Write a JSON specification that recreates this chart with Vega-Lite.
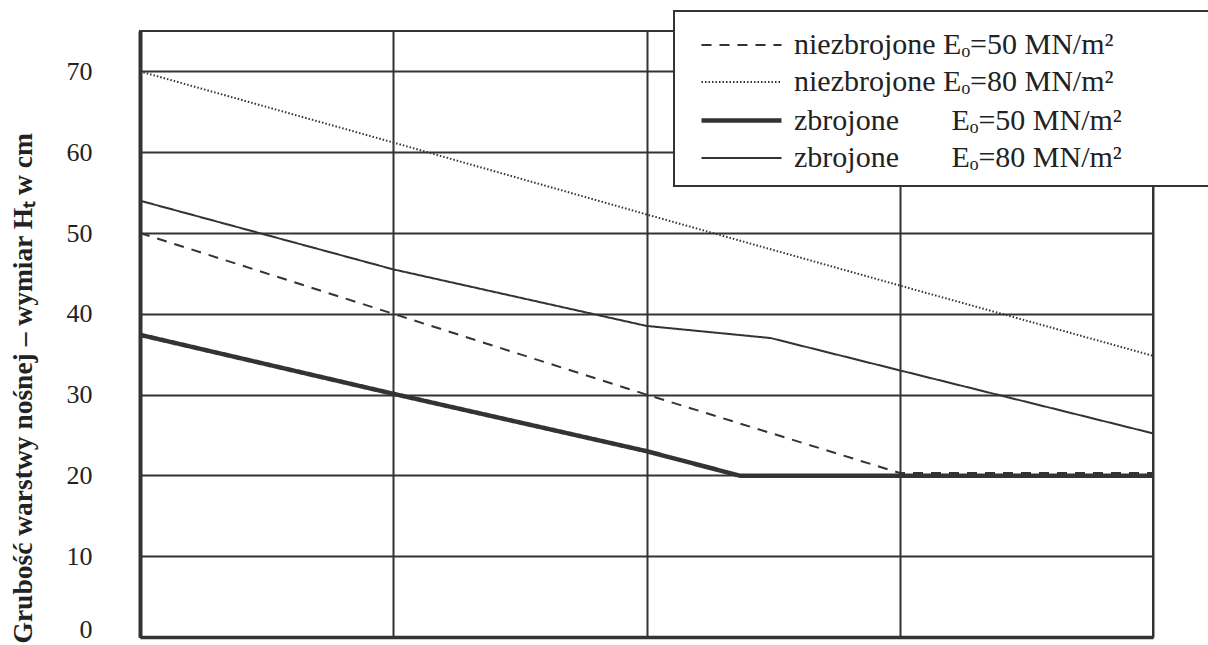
{
  "$schema": "https://vega.github.io/schema/vega-lite/v6.json",
  "autosize": "none",
  "width": 1013,
  "height": 606,
  "padding": {"left": 140, "top": 31, "right": 55, "bottom": 8},
  "background": "white",
  "data": {
    "values": [
      {"seria": "niezbrojone Eₒ=50 MN/m²", "x": 0, "h": 50},
      {"seria": "niezbrojone Eₒ=50 MN/m²", "x": 1, "h": 40},
      {"seria": "niezbrojone Eₒ=50 MN/m²", "x": 2, "h": 30},
      {"seria": "niezbrojone Eₒ=50 MN/m²", "x": 3, "h": 20.3},
      {"seria": "niezbrojone Eₒ=50 MN/m²", "x": 4, "h": 20.3},
      {"seria": "niezbrojone Eₒ=80 MN/m²", "x": 0, "h": 70},
      {"seria": "niezbrojone Eₒ=80 MN/m²", "x": 1, "h": 61.2},
      {"seria": "niezbrojone Eₒ=80 MN/m²", "x": 2, "h": 52.3},
      {"seria": "niezbrojone Eₒ=80 MN/m²", "x": 3, "h": 43.5},
      {"seria": "niezbrojone Eₒ=80 MN/m²", "x": 4, "h": 34.8},
      {"seria": "zbrojone Eₒ=50 MN/m²", "x": 0, "h": 37.4},
      {"seria": "zbrojone Eₒ=50 MN/m²", "x": 1, "h": 30.1},
      {"seria": "zbrojone Eₒ=50 MN/m²", "x": 2, "h": 23.0},
      {"seria": "zbrojone Eₒ=50 MN/m²", "x": 2.37, "h": 19.95},
      {"seria": "zbrojone Eₒ=50 MN/m²", "x": 4, "h": 19.95},
      {"seria": "zbrojone Eₒ=80 MN/m²", "x": 0, "h": 54},
      {"seria": "zbrojone Eₒ=80 MN/m²", "x": 1, "h": 45.5},
      {"seria": "zbrojone Eₒ=80 MN/m²", "x": 2, "h": 38.5},
      {"seria": "zbrojone Eₒ=80 MN/m²", "x": 2.49, "h": 37.0},
      {"seria": "zbrojone Eₒ=80 MN/m²", "x": 3, "h": 33.0},
      {"seria": "zbrojone Eₒ=80 MN/m²", "x": 4, "h": 25.2}
    ]
  },
  "mark": {"type": "line", "color": "#333", "strokeCap": "butt"},
  "encoding": {
    "x": {
      "field": "x",
      "type": "quantitative",
      "scale": {"domain": [0, 4], "nice": false, "zero": false},
      "axis": {
        "title": null,
        "labels": false,
        "ticks": false,
        "tickSize": 0,
        "values": [0, 1, 2, 3, 4],
        "grid": true,
        "gridColor": "#333",
        "gridWidth": 2,
        "gridOpacity": 1,
        "domainColor": "#333",
        "domainWidth": 3.5
      }
    },
    "y": {
      "field": "h",
      "type": "quantitative",
      "scale": {"domain": [0, 75], "nice": false},
      "axis": {
        "title": "Grubość warstwy nośnej – wymiar Hₜ w cm",
        "titleFont": "Liberation Serif",
        "titleFontSize": 27.5,
        "titleFontWeight": "bold",
        "titleColor": "#222",
        "titleAngle": -90,
        "titleX": -109,
        "titleY": 612,
        "titleAlign": "left",
        "titleBaseline": "alphabetic",
        "values": [0, 10, 20, 30, 40, 50, 60, 70],
        "labelFont": "Liberation Serif",
        "labelFontSize": 26,
        "labelColor": "#222",
        "labelPadding": 48,
        "labelFlush": false,
        "labelBaseline": {"condition": {"test": "datum.value == 0", "value": "alphabetic"}, "value": "middle"},
        "ticks": false,
        "tickSize": 0,
        "grid": true,
        "gridColor": "#333",
        "gridWidth": 2,
        "gridOpacity": 1,
        "domainColor": "#333",
        "domainWidth": 4
      }
    },
    "detail": {"field": "seria", "type": "nominal"},
    "strokeDash": {
      "field": "seria",
      "type": "nominal",
      "scale": {
        "domain": ["niezbrojone Eₒ=50 MN/m²", "niezbrojone Eₒ=80 MN/m²", "zbrojone Eₒ=50 MN/m²", "zbrojone Eₒ=80 MN/m²"],
        "range": [[10, 8], [1.5, 2], [1, 0], [1, 0]]
      },
      "legend": {
        "title": "\u2800",
        "titleOrient": "right",
        "titleFontSize": 6,
        "titlePadding": 70,
        "orient": "none",
        "legendX": 534,
        "legendY": -20,
        "labelExpr": "indexof(datum.label, 'nie') == 0 ? datum.label : replace(datum.label, ' ', '\u00a0\u00a0\u00a0\u00a0\u00a0\u00a0 ')"
      }
    },
    "strokeWidth": {
      "field": "seria",
      "type": "nominal",
      "scale": {
        "type": "ordinal",
        "domain": ["niezbrojone Eₒ=50 MN/m²", "niezbrojone Eₒ=80 MN/m²", "zbrojone Eₒ=50 MN/m²", "zbrojone Eₒ=80 MN/m²"],
        "range": [2, 2, 4.5, 2]
      }
    }
  },
  "config": {
    "font": "Liberation Serif",
    "view": {"stroke": "#333", "strokeWidth": 2},
    "legend": {
      "fillColor": "white",
      "strokeWidth": 2,
      "strokeColor": "#333",
      "padding": 13,
      "symbolType": "M-2,0H2",
      "symbolSize": 1600,
      "symbolOffset": 32,
      "symbolStrokeColor": "#333",
      "labelFont": "Liberation Serif",
      "labelFontSize": 30,
      "labelColor": "#222",
      "labelLimit": 1000,
      "labelOffset": 30,
      "rowPadding": 1
    }
  }
}
